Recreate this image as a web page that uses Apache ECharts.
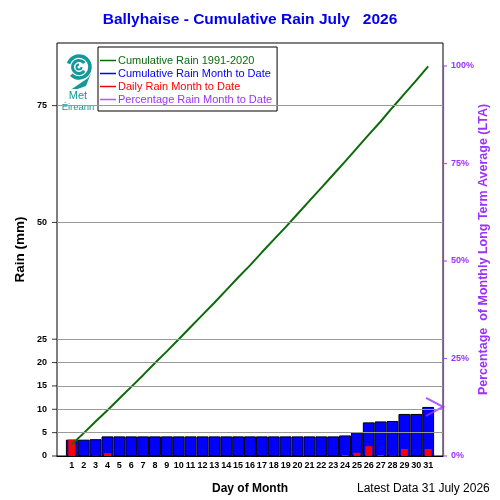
<!DOCTYPE html>
<html>
<head>
<meta charset="utf-8">
<script src="https://cdn.jsdelivr.net/npm/echarts@6/dist/echarts.min.js"></script>
<style>
  html, body { margin: 0; padding: 0; background: #fff; }
  #chart { width: 500px; height: 500px; }
</style>
</head>
<body>
<div id="chart"></div>
<script>
// Dados (mm)
const days = [1, 2, 3, 4, 5, 6, 7, 8, 9, 10, 11, 12, 13, 14, 15, 16, 17, 18, 19, 20, 21, 22, 23, 24, 25, 26, 27, 28, 29, 30, 31];
const dailyRain = [3.5, 0, 0.1, 0.6, 0, 0, 0, 0, 0, 0, 0, 0, 0, 0, 0, 0, 0, 0, 0, 0, 0, 0, 0, 0.2, 0.7, 2.1, 0.2, 0.1, 1.5, 0, 1.5];
const cumRain = [3.5, 3.5, 3.6, 4.2, 4.2, 4.2, 4.2, 4.2, 4.2, 4.2, 4.2, 4.2, 4.2, 4.2, 4.2, 4.2, 4.2, 4.2, 4.2, 4.2, 4.2, 4.2, 4.2, 4.4, 5.1, 7.2, 7.4, 7.5, 9.0, 9.0, 10.5];
const cumLTA = [2.5, 4.9, 7.4, 9.8, 12.3, 14.8, 17.3, 19.9, 22.4, 25.0, 27.6, 30.2, 32.8, 35.5, 38.2, 40.8, 43.6, 46.3, 49.0, 51.8, 54.6, 57.4, 60.2, 63.0, 65.9, 68.8, 71.6, 74.6, 77.5, 80.4, 83.4];
const pctToDate = [12.6];   // % da média (LTA) no último dia
const leftTicks = [0, 5, 10, 15, 20, 25, 50, 75];
const gridValues = [5, 10, 15, 20, 25, 50, 75];
const rightTicks = [0, 25, 50, 75, 100];

const GREEN = '#0b6b0b';
const BLUE = '#0000ff';
const RED = '#ff0000';
const PURPLE = '#9b30ff';
const TEAL = '#15989a';
const X_MIN = -0.25, X_MAX = 32.25;

const chart = echarts.init(document.getElementById('chart'));

const option = {
    animation: false,
    backgroundColor: '#fff',
    textStyle: { fontFamily: 'Liberation Sans, Arial, sans-serif' },
    title: {
        text: 'Ballyhaise - Cumulative Rain July   2026',
        left: 'center',
        top: 7,
        textStyle: { color: '#0000ee', fontSize: 15.5, fontWeight: 'bold' }
    },
    grid: {
        left: 57, right: 57, top: 43, bottom: 44,
        outerBoundsMode: 'none',
        containLabel: false,
        show: true, borderColor: '#000', borderWidth: 1
    },
    legend: {
        orient: 'vertical',
        left: 98, top: 47,
        padding: [8, 5, 6, 2],
        itemGap: 2,
        itemWidth: 16,
        itemHeight: 1.5,
        icon: 'rect',
        selectedMode: false,
        backgroundColor: '#fff',
        borderColor: '#000',
        borderWidth: 1,
        textStyle: { fontSize: 11, padding: [0, 0, 0, -3] },
        data: [
            { name: 'Cumulative Rain 1991-2020', textStyle: { color: GREEN }, itemStyle: { color: GREEN } },
            { name: 'Cumulative Rain Month to Date', textStyle: { color: BLUE }, itemStyle: { color: BLUE, borderWidth: 0 } },
            { name: 'Daily Rain Month to Date', textStyle: { color: RED }, itemStyle: { color: RED } },
            { name: 'Percentage Rain Month to Date', textStyle: { color: PURPLE }, itemStyle: { color: PURPLE, borderWidth: 0 } }
        ]
    },
    xAxis: [
        {
            type: 'value', min: X_MIN, max: X_MAX,
            name: 'Day of Month', nameLocation: 'middle', nameGap: 27,
            nameTextStyle: { fontSize: 12, fontWeight: 'bold', color: '#000' },
            axisLine: { lineStyle: { color: '#000' } },
            axisTick: { show: false },
            splitLine: { show: false },
            axisLabel: { customValues: days, fontSize: 9, fontWeight: 'bold', color: '#000', margin: 5 }
        },
        { type: 'value', min: X_MIN, max: X_MAX, show: false }
    ],
    yAxis: [
        {
            type: 'value', min: 0, max: 88.4,
            name: 'Rain (mm)', nameLocation: 'middle', nameGap: 30, nameRotate: 90,
            nameMoveOverlap: false,
            nameTextStyle: { fontSize: 13.5, fontWeight: 'bold', color: '#000' },
            axisLine: { show: false },
            axisTick: { show: false },
            axisLabel: { customValues: leftTicks, fontSize: 9, fontWeight: 'bold', color: '#000', margin: 10 },
            splitLine: { show: false }
        },
        {
            type: 'value', min: 0, max: 105.9, position: 'right',
            name: 'Percentage  of Monthly Long Term Average (LTA)', nameLocation: 'middle', nameGap: 34, nameRotate: 90,
            nameMoveOverlap: false,
            nameTextStyle: { fontSize: 12.5, fontWeight: 'bold', color: PURPLE },
            axisLine: { show: false },
            axisTick: { show: false },
            axisLabel: { customValues: rightTicks, formatter: '{value}%', fontSize: 9, fontWeight: 'bold', color: PURPLE, margin: 8 },
            splitLine: { show: false }
        }
    ],
    series: [
        {
            name: 'Cumulative Rain Month to Date',
            type: 'bar',
            xAxisIndex: 0, yAxisIndex: 0,
            barWidth: 11.88,
            itemStyle: { color: BLUE, borderColor: '#000', borderWidth: 1 },
            data: days.map((d, i) => [d, cumRain[i]]),
            markLine: {
                silent: true,
                symbol: 'none',
                label: { show: false },
                lineStyle: { color: '#999', type: 'solid', width: 1 },
                data: gridValues.map(v => ({ yAxis: v }))
            }
        },
        {
            name: 'Daily Rain Month to Date',
            type: 'bar',
            xAxisIndex: 1, yAxisIndex: 0,
            barWidth: 7,
            itemStyle: { color: RED },
            data: days.map((d, i) => [d, dailyRain[i]])
        },
        {
            name: 'Cumulative Rain 1991-2020',
            type: 'line',
            xAxisIndex: 0, yAxisIndex: 0,
            symbol: 'none',
            lineStyle: { color: GREEN, width: 2 },
            itemStyle: { color: GREEN },
            data: days.map((d, i) => [d, cumLTA[i]])
        },
        {
            name: 'Percentage Rain Month to Date',
            type: 'scatter',
            xAxisIndex: 0, yAxisIndex: 1,
            clip: false,
            symbol: 'path://M0,0L17,9L0,18',
            symbolSize: [17, 18],
            symbolOffset: [-8.5, 0],
            itemStyle: { color: 'none', borderColor: PURPLE, borderWidth: 2 },
            data: pctToDate.map(p => [X_MAX, p]),
            // eixo roxo de 0% a 100%
            markLine: {
                silent: true,
                symbol: 'none',
                label: { show: false },
                lineStyle: { color: PURPLE, type: 'solid', width: 1.2 },
                data: [[{ coord: [X_MAX, rightTicks[0]] }, { coord: [X_MAX, rightTicks[rightTicks.length - 1]] }]]
            }
        },
        {
            // marcas do eixo esquerdo
            type: 'scatter', xAxisIndex: 0, yAxisIndex: 0, silent: true, clip: false,
            symbol: 'rect', symbolSize: [5, 1], symbolOffset: [-2.5, 0],
            itemStyle: { color: '#000' },
            data: leftTicks.map(v => [X_MIN, v])
        },
        {
            // marcas do eixo direito
            type: 'scatter', xAxisIndex: 0, yAxisIndex: 1, silent: true, clip: false,
            symbol: 'rect', symbolSize: [4, 1.2], symbolOffset: [2, 0],
            itemStyle: { color: PURPLE },
            data: rightTicks.map(v => [X_MAX, v])
        }
    ],
    graphic: [
        // logo Met Éireann (aproximado)
        { type: 'arc', shape: { cx: 79, cy: 67, r: 11, startAngle: Math.PI * 1.1, endAngle: Math.PI * 2.75 }, style: { fill: null, stroke: TEAL, lineWidth: 3.5 } },
        { type: 'arc', shape: { cx: 79, cy: 67, r: 6.5, startAngle: Math.PI * 0.2, endAngle: Math.PI * 1.8 }, style: { fill: null, stroke: TEAL, lineWidth: 3 } },
        { type: 'arc', shape: { cx: 79, cy: 67, r: 2.5, startAngle: 0, endAngle: Math.PI * 1.5 }, style: { fill: null, stroke: TEAL, lineWidth: 2 } },
        { type: 'polygon', shape: { points: [[66, 93], [88, 78], [91, 73], [86, 86]] }, style: { fill: TEAL } },
        { type: 'rect', shape: { x: 63, y: 89, width: 33, height: 22 }, style: { fill: '#fff' } },
        { type: 'text', x: 78, y: 96, style: { text: 'Met', fontSize: 11, fill: TEAL, align: 'center', verticalAlign: 'middle', fontFamily: 'Liberation Sans' } },
        { type: 'text', x: 78, y: 107, style: { text: 'Éireann', fontSize: 9.5, fill: TEAL, align: 'center', verticalAlign: 'middle', fontFamily: 'Liberation Sans' } },
        // rodapé
        { type: 'text', x: 357, y: 489, style: { text: 'Latest Data 31 July 2026', fontSize: 12, fill: '#000', verticalAlign: 'middle', fontFamily: 'Liberation Sans' } }
    ]
};

chart.setOption(option);
</script>
</body>
</html>
